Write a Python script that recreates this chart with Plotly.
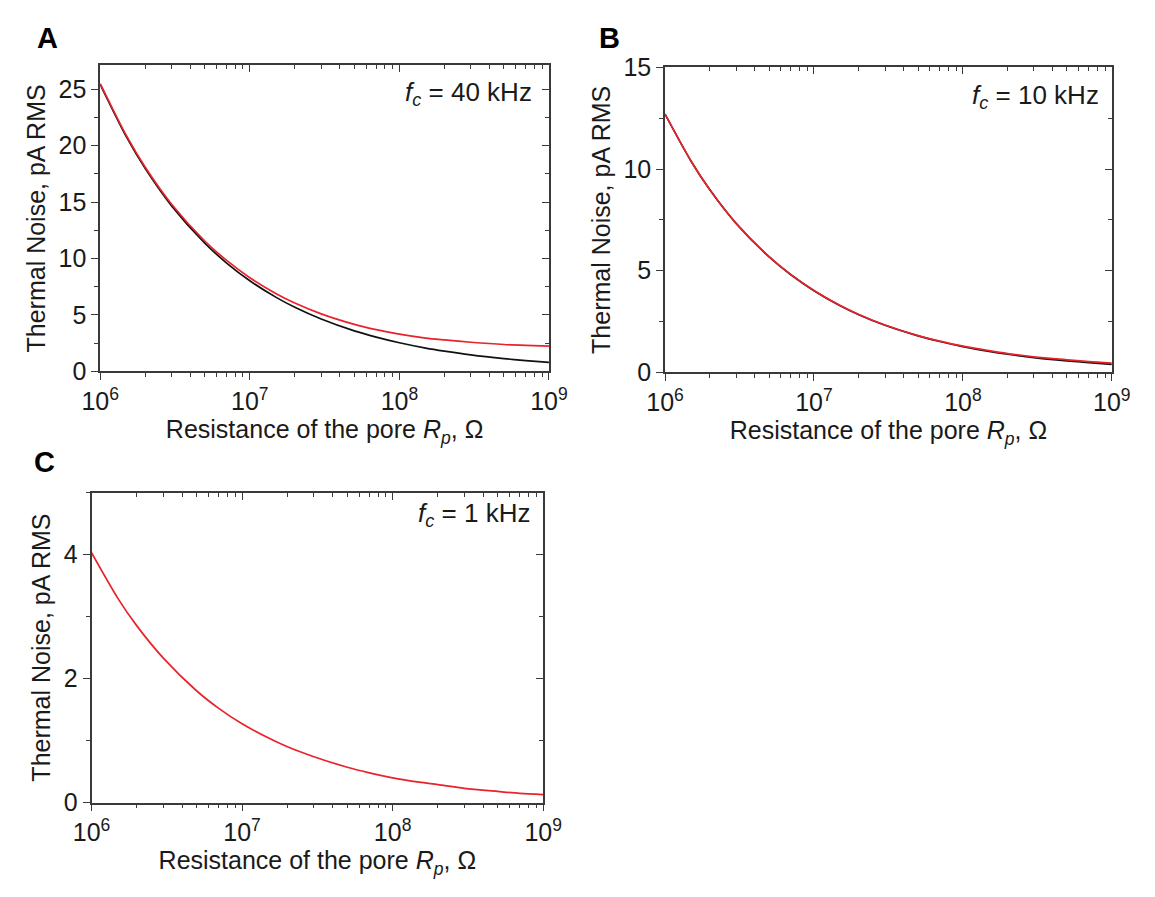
import plotly.graph_objects as go

# Pore resistance sample points (ohm)
resistance = [1e6, 1.5e6, 2e6, 3e6, 5e6, 7e6, 1e7, 1.5e7, 2e7, 3e7, 5e7, 7e7,
              1e8, 1.5e8, 2e8, 3e8, 5e8, 7e8, 1e9]

# Panel A, f_c = 40 kHz (pA RMS)
noise_40k_black = [25.40, 20.74, 17.96, 14.66, 11.36, 9.60, 8.03, 6.56, 5.68, 4.64,
                   3.59, 3.04, 2.54, 2.07, 1.80, 1.47, 1.14, 0.96, 0.80]
noise_40k_red = [25.49, 20.85, 18.08, 14.81, 11.55, 9.83, 8.30, 6.89, 6.06, 5.10,
                 4.17, 3.70, 3.30, 2.95, 2.79, 2.59, 2.39, 2.31, 2.25]

# Panel B, f_c = 10 kHz
noise_10k_black = [12.70, 10.37, 8.98, 7.33, 5.68, 4.80, 4.02, 3.28, 2.84, 2.32,
                   1.80, 1.52, 1.27, 1.04, 0.90, 0.73, 0.57, 0.48, 0.40]
noise_10k_red = [12.70, 10.37, 8.98, 7.33, 5.69, 4.81, 4.03, 3.29, 2.85, 2.33,
                 1.81, 1.54, 1.29, 1.07, 0.93, 0.77, 0.62, 0.53, 0.46]

# Panel C, f_c = 1 kHz
noise_1k_red = [4.03, 3.29, 2.85, 2.33, 1.80, 1.52, 1.27, 1.04, 0.90, 0.74,
                0.57, 0.48, 0.40, 0.33, 0.29, 0.23, 0.18, 0.15, 0.13]

x_major = [1e6, 1e7, 1e8, 1e9]
x_major_text = ["10<sup>6</sup>", "10<sup>7</sup>", "10<sup>8</sup>", "10<sup>9</sup>"]
x_minor = [m * 10 ** e for e in (6, 7, 8) for m in range(2, 10)]

RED = "#e8232b"
BLACK = "#111111"
AXIS = "#3a3a3a"
FONT = "Liberation Sans, Arial, sans-serif"
TXT = "#1a1a1a"
TICK_SIZE = 25
TITLE_SIZE = 25

W, H = 1155, 897

panels = [
    dict(key="A", dom_x=(84, 548), dom_y=(53, 369), yrange=[0, 27.1], dtick=5, minor=2.5,
         label_xy=(29, 25), note="40 kHz", note_xy=(0.967, 0.907),
         series=[(noise_40k_black, BLACK), (noise_40k_red, RED)]),
    dict(key="B", dom_x=(668, 1130), dom_y=(55, 370), yrange=[0, 15], dtick=5, minor=2.5,
         label_xy=(611, 25), note="10 kHz", note_xy=(0.976, 0.905),
         series=[(noise_10k_black, BLACK), (noise_10k_red, RED)]),
    dict(key="C", dom_x=(75, 542), dom_y=(494, 814), yrange=[0, 5], dtick=2, minor=1,
         label_xy=(26, 462), note="1 kHz", note_xy=(0.976, 0.929),
         series=[(noise_1k_red, RED)]),
]

fig = go.Figure()
layout = dict(
    width=W, height=H, margin=dict(l=0, r=0, t=0, b=0),
    paper_bgcolor="white", plot_bgcolor="white", showlegend=False,
    font=dict(family=FONT, size=TICK_SIZE, color=TXT),
    annotations=[],
)

for i, p in enumerate(panels):
    n = 2 * i + 1          # primary axes (bottom / left)
    m = 2 * i + 2          # overlay axes (top / right, inward ticks)
    xs, ys = ("x" if n == 1 else f"x{n}"), ("y" if n == 1 else f"y{n}")
    xo, yo = f"x{m}", f"y{m}"
    dx = [p["dom_x"][0] / W, p["dom_x"][1] / W]
    dy = [1 - p["dom_y"][1] / H, 1 - p["dom_y"][0] / H]

    for vals, col in p["series"]:
        fig.add_trace(go.Scatter(x=resistance, y=vals, mode="lines",
                                 line=dict(color=col, width=1.7, shape="spline", smoothing=0.8),
                                 xaxis=xs, yaxis=ys, hoverinfo="skip"))
    # empty trace that registers the overlay subplot
    fig.add_trace(go.Scatter(x=[], y=[], xaxis=xo, yaxis=yo, hoverinfo="skip"))

    xname = "xaxis" if n == 1 else f"xaxis{n}"
    yname = "yaxis" if n == 1 else f"yaxis{n}"
    layout[xname] = dict(
        domain=dx, anchor=ys, type="log", range=[6, 9],
        tickvals=x_major, ticktext=x_major_text, ticks="outside", ticklen=7, tickwidth=1.4,
        tickcolor=AXIS, showline=True, linecolor=AXIS, linewidth=1.6, mirror=True,
        showgrid=False, zeroline=False,
        minor=dict(tickvals=x_minor, ticks="outside", ticklen=4, tickwidth=1.2,
                   tickcolor=AXIS, showgrid=False),
        tickfont=dict(size=TICK_SIZE, color=TXT),
        title=dict(text="Resistance of the pore <i>R</i><sub><i>p</i></sub>, Ω",
                   font=dict(size=TITLE_SIZE, color=TXT), standoff=0),
    )
    layout[yname] = dict(
        domain=dy, anchor=xs, range=p["yrange"], dtick=p["dtick"], tick0=0,
        ticks="outside", ticklen=7, tickwidth=1.4, tickcolor=AXIS,
        showline=True, linecolor=AXIS, linewidth=1.6, mirror=True,
        showgrid=False, zeroline=False,
        minor=dict(dtick=p["minor"], tick0=0, ticks="outside", ticklen=4, tickwidth=1.2,
                   tickcolor=AXIS, showgrid=False),
        tickfont=dict(size=TICK_SIZE, color=TXT),
        title=dict(text="Thermal Noise, pA RMS", font=dict(size=TITLE_SIZE, color=TXT),
                   standoff=6),
    )
    layout[f"xaxis{m}"] = dict(
        domain=dx, anchor=yo, overlaying=xs, side="top", type="log", range=[6, 9],
        tickvals=x_major, ticks="inside", ticklen=7, tickwidth=1.4, tickcolor=AXIS,
        showticklabels=False, showline=False, showgrid=False, zeroline=False,
        minor=dict(tickvals=x_minor, ticks="inside", ticklen=4, tickwidth=1.2,
                   tickcolor=AXIS, showgrid=False),
    )
    layout[f"yaxis{m}"] = dict(
        domain=dy, anchor=xo, overlaying=ys, side="right", range=p["yrange"],
        dtick=p["dtick"], tick0=0, ticks="inside", ticklen=7, tickwidth=1.4, tickcolor=AXIS,
        showticklabels=False, showline=False, showgrid=False, zeroline=False,
        minor=dict(dtick=p["minor"], tick0=0, ticks="inside", ticklen=4, tickwidth=1.2,
                   tickcolor=AXIS, showgrid=False),
    )

    # panel letter
    layout["annotations"].append(dict(
        text=f"<b>{p['key']}</b>", x=p["label_xy"][0] / W, y=1 - p["label_xy"][1] / H,
        xref="paper", yref="paper", showarrow=False, xanchor="center", yanchor="middle",
        font=dict(size=29, color="#000000")))
    # cut-off frequency label
    layout["annotations"].append(dict(
        text=f"<i>f</i><sub><i>c</i></sub> = {p['note']}",
        x=p["note_xy"][0], y=p["note_xy"][1], xref=f"{xs} domain", yref=f"{ys} domain",
        showarrow=False, xanchor="right", yanchor="middle",
        font=dict(size=26, color=TXT)))

fig.update_layout(**layout)
fig.write_html("out.html")
